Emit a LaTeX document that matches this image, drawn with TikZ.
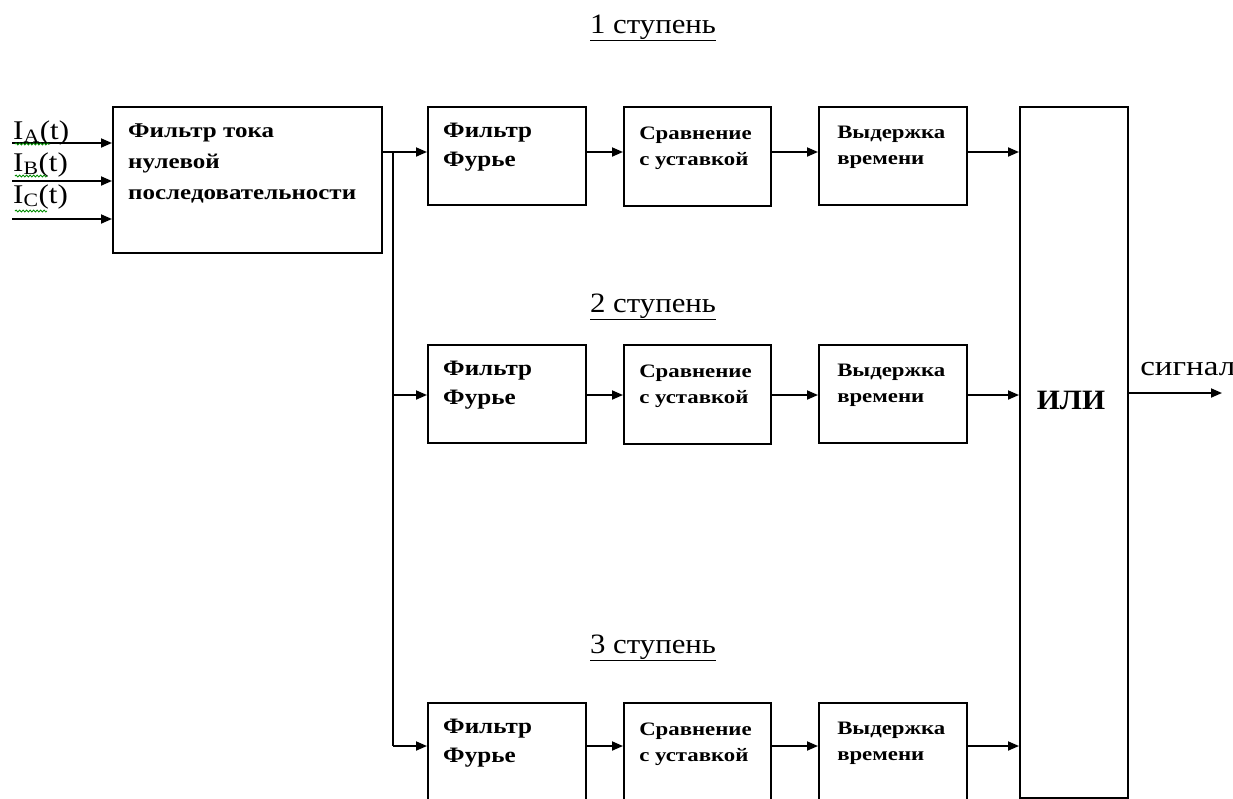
\documentclass[tikz,border=0pt]{standalone}
\usepackage{fontspec}
\setmainfont{Liberation Serif}
\usetikzlibrary{arrows.meta,decorations.pathmorphing,calc}
\begin{document}
\begin{tikzpicture}[x=1pt,y=-1pt,
  blk/.style={draw, line width=1.8pt, inner sep=0pt, anchor=north west},
  ftxt/.style={anchor=base west, inner sep=0pt, align=left, xscale=1.19, font=\bfseries\fontsize{21}{31}\selectfont},
  btxt/.style={anchor=base west, inner sep=0pt, align=left, xscale=1.14, font=\bfseries\fontsize{22}{29}\selectfont},
  ctxt/.style={anchor=base west, inner sep=0pt, align=left, xscale=1.2, font=\bfseries\fontsize{19}{26}\selectfont},
  lbl/.style={anchor=base, inner sep=0pt, xscale=1.1, font=\fontsize{28}{30}\selectfont},
  inlbl/.style={anchor=base west, inner sep=0pt, xscale=1.15, font=\fontsize{27}{30}\selectfont},
  arr/.style={-{Triangle[length=11pt,width=9pt]}, line width=1.8pt},
  ln/.style={line width=1.8pt},
  squig/.style={draw=green!55!black, line width=0.8pt, decorate, decoration={snake, amplitude=1pt, segment length=3.5pt}}
  ]
\useasboundingbox (0,0) rectangle (1233,798);
% main filter
\node[blk, minimum width=269pt, minimum height=146pt] (filt) at (112,106) {};
\node[ftxt] (filttxt) at (128,199) {Фильтр тока\\нулевой\\последовательности};
% input arrows and labels
\foreach \i/\y/\ly/\s in {a/143/139/A, b/181/171/B, c/219/203/C}{
  \coordinate (in\i) at (12,\y);
  \draw[arr] (in\i) -- (in\i -| filt.west);
  \node[inlbl] (lab\i) at (13,\ly) {I\textsubscript{\s}(t)};
}
\draw[squig] (15,144) -- (50,144);
\draw[squig] (15,176) -- (47,176);
\draw[squig] (15,211) -- (47,211);
% rows
\foreach \r/\t in {1/106, 2/344, 3/702}{
  \node[blk, minimum width=158pt, minimum height=98pt] (F\r) at (427,\t) {};
  \node[blk, minimum width=147pt, minimum height=99pt] (C\r) at (623,\t) {};
  \node[blk, minimum width=148pt, minimum height=98pt] (D\r) at (818,\t) {};
  \node[btxt] (Ft\r) at (443,\t+60) {Фильтр\\Фурье};
  \node[ctxt] (Ct\r) at (639,\t+59) {Сравнение\\с уставкой};
  \node[ctxt] (Dt\r) at (837,\t+58) {Выдержка\\времени};
}
% OR box
\node[blk, minimum width=108pt, minimum height=691pt] (or) at (1019,106) {};
\node[anchor=base, inner sep=0pt, xscale=1.06, font=\bfseries\fontsize{28}{30}\selectfont] (ortxt) at (1071,409) {ИЛИ};
% stage labels
\node[lbl] (s1) at (653,33) {\underline{1 ступень}};
\node[lbl] (s2) at (653,312) {\underline{2 ступень}};
\node[lbl] (s3) at (653,653) {\underline{3 ступень}};
% connections
\coordinate (y1) at (0,152);
\coordinate (y2) at (0,395);
\coordinate (y3) at (0,746);
\coordinate (bus) at (393,152);
\draw[arr] (filt.east |- y1) -- (F1.west |- y1);
\draw[ln] (bus) -- (bus |- y3);
\draw[arr] (bus |- y2) -- (F2.west |- y2);
\draw[arr] (bus |- y3) -- (F3.west |- y3);
\foreach \r in {1,2,3}{
  \draw[arr] (F\r.east |- y\r) -- (C\r.west |- y\r);
  \draw[arr] (C\r.east |- y\r) -- (D\r.west |- y\r);
  \draw[arr] (D\r.east |- y\r) -- (or.west |- y\r);
}
\coordinate (out) at (1222,393);
\draw[arr] (out -| or.east) -- (out);
\node[anchor=base west, inner sep=0pt, xscale=1.18, font=\fontsize{28}{30}\selectfont] (sig) at (1140,375) {сигнал};
\end{tikzpicture}
\end{document}
